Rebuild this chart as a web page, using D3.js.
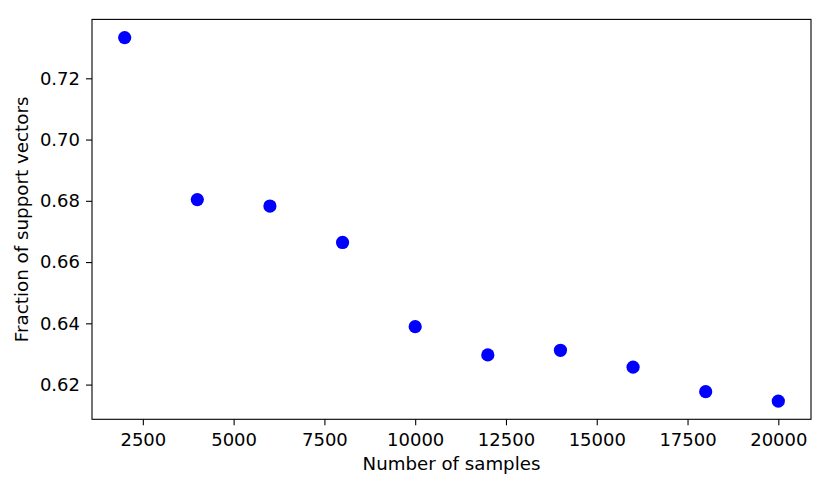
<!DOCTYPE html>
<html>
<head>
<meta charset="utf-8">
<script src="https://cdn.jsdelivr.net/npm/d3@7"></script>
<style>
  html, body { margin: 0; padding: 0; background: #fff; }
  svg { display: block; }
  text { font-family: "DejaVu Sans", sans-serif; fill: #000; }
</style>
</head>
<body>
<svg id="chart" width="831" height="489"></svg>
<script>
const samples = [2000, 4000, 6000, 8000, 10000, 12000, 14000, 16000, 18000, 20000];
const fractionSV = [0.7333, 0.6804, 0.6783, 0.6664, 0.6389, 0.6297, 0.6312, 0.6257, 0.6177, 0.6146];
const xTicks = [2500, 5000, 7500, 10000, 12500, 15000, 17500, 20000];
const yTicks = [0.62, 0.64, 0.66, 0.68, 0.70, 0.72];
const xLabel = "Number of samples";
const yLabel = "Fraction of support vectors";

const svg = d3.select("#chart");
const pLeft = 92, pRight = 811, pTop = 19.4, pBottom = 419.3;
const fs = 18;

function padded(ext) {
  const m = (ext[1] - ext[0]) * 0.05;
  return [ext[0] - m, ext[1] + m];
}
const x = d3.scaleLinear().domain(padded(d3.extent(samples))).range([pLeft, pRight]);
const y = d3.scaleLinear().domain(padded(d3.extent(fractionSV))).range([pBottom, pTop]);

// points
svg.append("g").selectAll("circle")
  .data(samples.map((s, i) => [s, fractionSV[i]]))
  .join("circle")
  .attr("cx", d => x(d[0]))
  .attr("cy", d => y(d[1]))
  .attr("r", 6.6)
  .attr("fill", "#0000ff");

// axes
const xAxis = svg.append("g")
  .attr("transform", `translate(0,${pBottom})`)
  .call(d3.axisBottom(x).tickValues(xTicks).tickFormat(d3.format("d")).tickSize(6).tickPadding(8.3).tickSizeOuter(0));
const yAxis = svg.append("g")
  .attr("transform", `translate(${pLeft},0)`)
  .call(d3.axisLeft(y).tickValues(yTicks).tickFormat(d3.format(".2f")).tickSize(6).tickPadding(6).tickSizeOuter(0));

[xAxis, yAxis].forEach(a => {
  a.select(".domain").remove();
  a.selectAll(".tick line").attr("stroke", "#000").attr("stroke-width", 1.1);
  a.selectAll(".tick text").attr("font-size", fs).attr("font-family", "DejaVu Sans").attr("fill", "#000");
});

// frame
svg.append("rect")
  .attr("x", pLeft).attr("y", pTop)
  .attr("width", pRight - pLeft).attr("height", pBottom - pTop)
  .attr("fill", "none").attr("stroke", "#000").attr("stroke-width", 1.1);

// labels
svg.append("text")
  .attr("x", (pLeft + pRight) / 2).attr("y", 470)
  .attr("text-anchor", "middle").attr("font-size", 18.2)
  .text(xLabel);
svg.append("text")
  .attr("transform", `translate(27.5,${(pTop + pBottom) / 2}) rotate(-90)`)
  .attr("text-anchor", "middle").attr("font-size", 18.3)
  .text(yLabel);
</script>
</body>
</html>
